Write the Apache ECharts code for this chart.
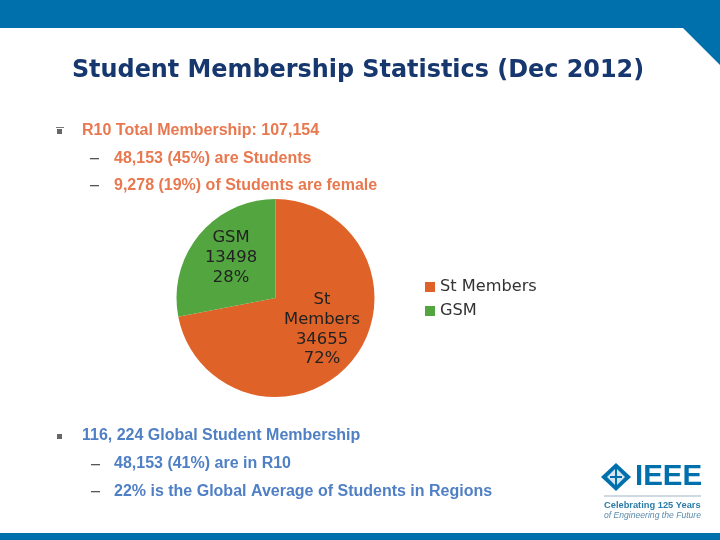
<!DOCTYPE html>
<html><head><meta charset="utf-8">
<style>html,body{margin:0;padding:0;background:#fff}#c{width:720px;height:540px}</style>
<script src="https://cdn.jsdelivr.net/npm/echarts@6/dist/echarts.min.js"></script>
</head><body><div id="c"></div>
<script>
const titleText = 'Student Membership Statistics (Dec 2012)';
const categories = ['St Members', 'GSM'];
const labelNames = ['St\nMembers', 'GSM'];
const values = [34655, 13498];
const colors = ['#DF6228', '#52A53F'];
const orangeLines = [
  ['R10 Total Membership: 107,154', 82, 131],
  ['48,153 (45%) are Students', 114, 159],
  ['9,278 (19%) of Students are female', 114, 186]
];
const blueLines = [
  ['116, 224 Global Student Membership', 82, 436],
  ['48,153 (41%) are in R10', 114, 464],
  ['22% is the Global Average of Students in Regions', 114, 492]
];
const dashes = [[90,158],[90,185],[91,464],[91,491]];
const bullets = [[60,131],[60,436]];
const BLUE = '#0070AC';

function txt(t,x,y,size,color,weight,family){
  return {type:'text',x:x,y:y,silent:true,style:{text:t,fill:color,
    font:(weight||'normal')+' '+size+'px '+(family||'"Liberation Sans"'),
    verticalAlign:'middle'}};
}
const g = [
  {type:'rect',shape:{x:0,y:0,width:720,height:28},style:{fill:BLUE},silent:true},
  {type:'polygon',shape:{points:[[683,28],[720,28],[720,65]]},style:{fill:BLUE},silent:true},
  {type:'rect',shape:{x:0,y:533,width:720,height:7},style:{fill:BLUE},silent:true}
];
orangeLines.forEach(l=>g.push(txt(l[0],l[1],l[2],16,'#E8784F','bold')));
blueLines.forEach(l=>g.push(txt(l[0],l[1],l[2],16,'#4F7FC4','bold')));
dashes.forEach(d=>g.push({type:'rect',shape:{x:d[0],y:d[1],width:9,height:1.3},style:{fill:'#555'},silent:true}));
bullets.forEach(b=>g.push({type:'rect',shape:{x:b[0]-3,y:b[1]-2,width:5,height:5},style:{fill:'#666'},silent:true}));
g.push({type:'rect',shape:{x:56,y:127,width:8,height:1},style:{fill:'#777'},silent:true});
// IEEE logo
g.push({type:'polygon',shape:{points:[[616,463],[631,477],[616,491],[601,477]]},style:{fill:BLUE},silent:true});
g.push({type:'polygon',shape:{points:[[616,468],[625,477],[616,486],[607,477]]},style:{fill:'#D5E6F1'},silent:true});
g.push({type:'rect',shape:{x:615,y:468,width:2,height:18},style:{fill:BLUE},silent:true});
g.push({type:'rect',shape:{x:610,y:476,width:12,height:2},style:{fill:BLUE},silent:true});
g.push(txt('IEEE',635,477,29.5,BLUE,'bold'));
g.push({type:'rect',shape:{x:604,y:495.5,width:97,height:1},style:{fill:'#9DB4C4'},silent:true});
g.push(txt('Celebrating 125 Years',604,505,9.3,'#2B7CA8','bold'));
g.push(txt('of Engineering the Future',604,516,8.6,'#5A8CAD','italic'));

const labelOffsets = [[6,-2],[-4,-7]];
const chart = echarts.init(document.getElementById('c'),null,{renderer:'canvas'});
chart.setOption({
  animation:false,
  backgroundColor:'#fff',
  color:colors,
  title:{text:titleText,left:353,top:54,textAlign:'center',
    textStyle:{color:'#17376F',fontSize:23.9,fontWeight:'bold',fontFamily:'"DejaVu Sans"'}},
  legend:{orient:'vertical',left:420,top:274,itemWidth:10,itemHeight:10,itemGap:8,icon:'rect',
    data:categories,textStyle:{color:'#333',fontSize:16.2,fontFamily:'"DejaVu Sans"'}},
  graphic:g,
  series:[{
    type:'pie',center:[275.5,298],radius:[0,99],startAngle:90,clockwise:true,
    itemStyle:{borderWidth:0},
    label:{position:'inner',color:'#222',fontSize:16.4,lineHeight:19.7,fontFamily:'"DejaVu Sans"',
      formatter:p=>labelNames[p.dataIndex]+'\n'+p.value+'\n'+Math.round(p.percent)+'%'},
    labelLayout:p=>({dx:labelOffsets[p.dataIndex][0],dy:labelOffsets[p.dataIndex][1]}),
    labelLine:{show:false},
    emphasis:{disabled:true},
    data:categories.map((c,i)=>({name:c,value:values[i]}))
  }]
});
</script></body></html>
